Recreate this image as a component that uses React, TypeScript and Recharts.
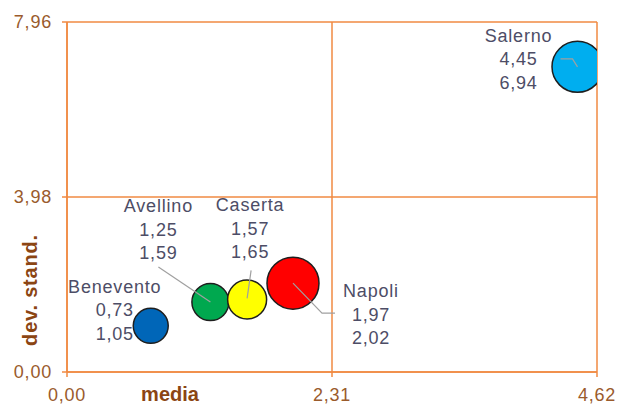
import React from 'react';
import { CartesianGrid, Cell, Label, Scatter, ScatterChart, XAxis, YAxis, ZAxis, usePlotArea } from 'recharts';

// province e valori
const comuni = ['Benevento', 'Avellino', 'Caserta', 'Napoli', 'Salerno'];
const media = [0.73, 1.25, 1.57, 1.97, 4.45];
const devStand = [1.05, 1.59, 1.65, 2.02, 6.94];
const dimensione = [306, 342, 380, 676, 650];
const xTicks = [0, 2.31, 4.62];
const yTicks = [0, 3.98, 7.96];

const colori = ['#0066B8', '#00A84F', '#FFFF00', '#FF0000', '#00AEEF'];
const arancio = '#F08A42';
const marrone = '#9A5B2C';
const font = 'Liberation Sans, Arial, sans-serif';

// posizione delle etichette rispetto al centro della bolla
const etichette: Record<string, { dx: number; dy: number; leader?: number[][] }> = {
  Benevento: { dx: -36, dy: -39 },
  Avellino: { dx: -52, dy: -96, leader: [[-52, -35], [0, 0]] },
  Caserta: { dx: 3, dy: -94, leader: [[4, -29], [0, -1]] },
  Napoli: { dx: 78, dy: 8, leader: [[0, 0], [29, 30], [42, 30]] },
  Salerno: { dx: -59, dy: -31, leader: [[-17, -8], [-5, -8], [0, 0]] },
};

const punti = comuni.map((nome, i) => ({ nome, x: media[i], y: devStand[i], z: dimensione[i] }));

const fmt = (v: number) => v.toFixed(2).replace('.', ',');

function Bolla(props: any) {
  const area = usePlotArea();
  const { cx, cy, payload, fill } = props;
  if (cx == null || !payload) return null;
  const r = props.size ? Math.sqrt(props.size / Math.PI) : props.width / 2;
  const cfg = etichette[payload.nome];
  const righe = [payload.nome, fmt(payload.x), fmt(payload.y)];
  const clipId = `clip-${payload.nome}`;
  return (
    <g>
      {area && (
        <defs>
          <clipPath id={clipId}>
            <rect x={area.x} y={area.y} width={area.width} height={area.height} />
          </clipPath>
        </defs>
      )}
      <text
        textAnchor="middle"
        dominantBaseline="central"
        fill="#4D4D66"
        fontSize={18}
        letterSpacing={0.8}
        fontFamily={font}
      >
        {righe.map((t, i) => (
          <tspan key={i} x={cx + cfg.dx} y={cy + cfg.dy + i * 23.5}>
            {t}
          </tspan>
        ))}
      </text>
      <circle
        cx={cx}
        cy={cy}
        r={r}
        fill={fill}
        stroke="#1e1e1e"
        strokeWidth={1.5}
        clipPath={area ? `url(#${clipId})` : undefined}
      />
      {cfg.leader && (
        <polyline
          points={cfg.leader.map(([a, b]) => `${cx + a},${cy + b}`).join(' ')}
          fill="none"
          stroke="#A0A0A0"
          strokeWidth={1.2}
        />
      )}
    </g>
  );
}

const TitoloX = (p: any) => (
  <text
    x={p.viewBox.x + 103}
    y={p.viewBox.y + 29}
    textAnchor="middle"
    fill="#8B4513"
    fontSize={20}
    fontWeight="bold"
    fontFamily={font}
  >
    media
  </text>
);

const TitoloY = () => (
  <text
    x={30}
    y={290}
    transform="rotate(-90, 30, 290)"
    textAnchor="middle"
    dominantBaseline="central"
    fill="#8B4513"
    fontSize={20}
    fontWeight="bold"
    letterSpacing={0.8}
    fontFamily={font}
  >
    dev. stand.
  </text>
);

export default function App() {
  return (
    <div style={{ width: 617, height: 408, background: '#fff' }}>
      <style>{'body{margin:0}'}</style>
      <ScatterChart width={617} height={408} margin={{ top: 22, right: 20, bottom: 0, left: 0 }}>
        <CartesianGrid stroke={arancio} strokeWidth={1.5} />
        <XAxis
          type="number"
          dataKey="x"
          domain={[0, 4.62]}
          ticks={xTicks}
          interval={0}
          tickFormatter={fmt}
          height={36}
          tickSize={5}
          tickMargin={11}
          axisLine={{ stroke: arancio, strokeWidth: 1.5 }}
          tickLine={{ stroke: arancio, strokeWidth: 1.5 }}
          tick={{ fill: marrone, fontSize: 18, fontFamily: font, letterSpacing: 0.8 }}
          label={<Label content={TitoloX} />}
        />
        <YAxis
          type="number"
          dataKey="y"
          domain={[0, 7.96]}
          ticks={yTicks}
          interval={0}
          tickFormatter={fmt}
          width={67}
          tickSize={5}
          tickMargin={10}
          axisLine={{ stroke: arancio, strokeWidth: 1.5 }}
          tickLine={{ stroke: arancio, strokeWidth: 1.5 }}
          tick={{ fill: marrone, fontSize: 18, fontFamily: font, letterSpacing: 0.8 }}
          label={<Label content={TitoloY} />}
        />
        <ZAxis type="number" dataKey="z" domain={[0, 676]} range={[0, 676 * Math.PI]} />
        <Scatter data={punti} shape={<Bolla />} isAnimationActive={false}>
          {punti.map((p, i) => (
            <Cell key={p.nome} fill={colori[i]} />
          ))}
        </Scatter>
      </ScatterChart>
    </div>
  );
}
